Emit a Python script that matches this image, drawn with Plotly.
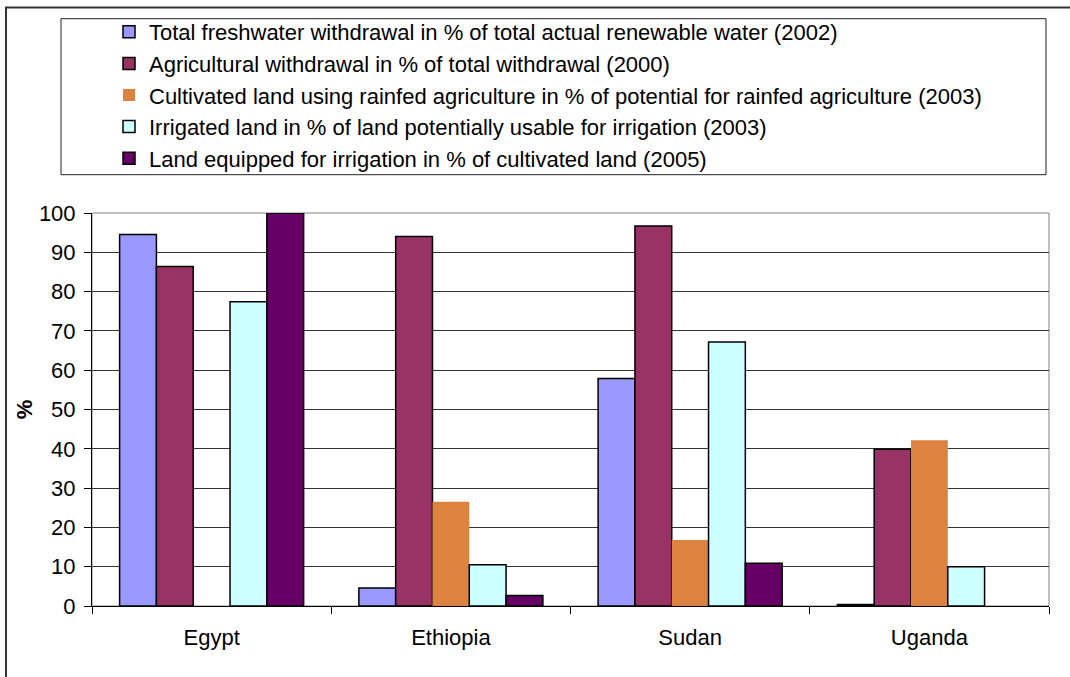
import plotly.graph_objects as go

countries = ["Egypt", "Ethiopia", "Sudan", "Uganda"]

series_names = [
    "Total freshwater withdrawal in % of total actual renewable water (2002)",
    "Agricultural withdrawal in % of total withdrawal (2000)",
    "Cultivated land using rainfed agriculture in % of potential for rainfed agriculture (2003)",
    "Irrigated land in % of land potentially usable for irrigation (2003)",
    "Land equipped for irrigation in % of cultivated land (2005)",
]

freshwater_withdrawal = [94.5, 4.6, 57.9, 0.4]
agricultural_withdrawal = [86.4, 94.0, 96.7, 39.9]
rainfed_cultivated = [None, 26.5, 16.8, 42.2]
irrigated_land = [77.4, 10.5, 67.2, 10.0]
equipped_for_irrigation = [100.0, 2.7, 10.9, None]

y_ticks = [0, 10, 20, 30, 40, 50, 60, 70, 80, 90, 100]

series_values = [
    freshwater_withdrawal,
    agricultural_withdrawal,
    rainfed_cultivated,
    irrigated_land,
    equipped_for_irrigation,
]
colors = ["#9999FF", "#993366", "#DC843F", "#CCFFFF", "#660066"]
outline = [1.5, 1.5, 0, 1.5, 1.5]

FONT = "Liberation Sans, Arial, sans-serif"

fig = go.Figure()
for name, vals, col, lw in zip(series_names, series_values, colors, outline):
    fig.add_trace(go.Bar(
        name=name, x=countries, y=vals,
        marker=dict(color=col, line=dict(color="black", width=lw)),
    ))

# plot geometry in pixels (used to place frames around the chart)
W, H = 1070, 677
L, R, T, B = 92, 21, 213, 71
pw, ph = W - L - R, H - T - B


def px_x(x):
    return (x - L) / pw


def px_y(y):
    return (H - B - y) / ph


shapes = [
    # outer chart frame
    dict(type="rect", xref="paper", yref="paper",
         x0=px_x(6), x1=px_x(1080), y0=px_y(7.5), y1=px_y(690),
         line=dict(color="#333333", width=2), fillcolor="rgba(0,0,0,0)"),
    # legend frame
    dict(type="rect", xref="paper", yref="paper",
         x0=px_x(61), x1=px_x(1046), y0=px_y(18.7), y1=px_y(174.7),
         line=dict(color="#222222", width=1), fillcolor="rgba(0,0,0,0)"),
    # plot area border (top / right)
    dict(type="rect", xref="paper", yref="paper", x0=0, x1=1, y0=0, y1=1,
         line=dict(color="#808080", width=1), layer="below"),
]

fig.update_layout(
    width=W, height=H,
    margin=dict(l=L, r=R, t=T, b=B, pad=0, autoexpand=False),
    paper_bgcolor="white", plot_bgcolor="white",
    font=dict(family=FONT, size=22, color="black"),
    barmode="group", bargap=0.2308, bargroupgap=0,
    showlegend=True,
    legend=dict(
        x=px_x(109), xanchor="left", y=px_y(11), yanchor="top",
        bgcolor="rgba(0,0,0,0)", borderwidth=0,
        font=dict(family=FONT, size=22, color="black"),
        traceorder="normal",
    ),
    shapes=shapes,
)

fig.update_xaxes(
    type="category", tickson="boundaries", automargin=False,
    ticks="outside", ticklen=7, tickcolor="black", tickwidth=1,
    showline=True, linecolor="black", linewidth=1,
    showgrid=False, tickfont=dict(size=22), ticklabelstandoff=12,
)
fig.update_yaxes(
    range=[0, 100], tickvals=y_ticks, automargin=False,
    ticks="outside", ticklen=7, tickcolor="black", tickwidth=1,
    showline=True, linecolor="black", linewidth=1,
    showgrid=True, gridcolor="#333333", gridwidth=1,
    zeroline=False, tickfont=dict(size=22), ticklabelstandoff=4,
    title=dict(text="<b>%</b>", font=dict(size=22), standoff=0),
)

fig.write_html("out.html")
